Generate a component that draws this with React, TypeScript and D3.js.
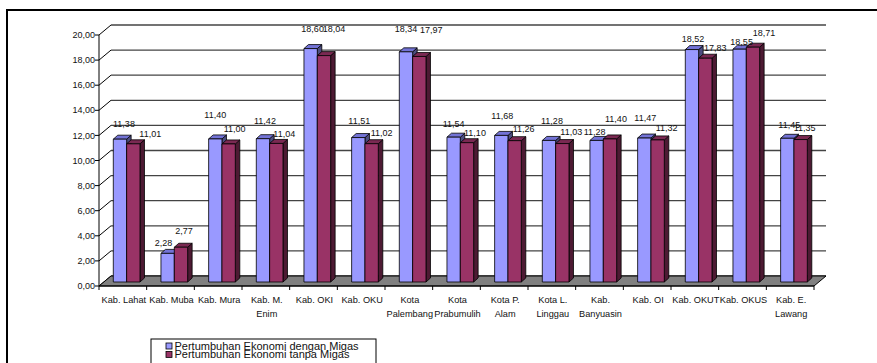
import React from "react";
import * as d3 from "d3";

// Regional economic growth (%) per kabupaten/kota
const categories: string[][] = [
  ["Kab. Lahat"],
  ["Kab. Muba"],
  ["Kab. Mura"],
  ["Kab. M.", "Enim"],
  ["Kab. OKI"],
  ["Kab. OKU"],
  ["Kota", "Palembang"],
  ["Kota", "Prabumulih"],
  ["Kota P.", "Alam"],
  ["Kota L.", "Linggau"],
  ["Kab.", "Banyuasin"],
  ["Kab. OI"],
  ["Kab. OKUT"],
  ["Kab. OKUS"],
  ["Kab. E.", "Lawang"],
];

const withMigas = [11.38, 2.28, 11.4, 11.42, 18.6, 11.51, 18.34, 11.54, 11.68, 11.28, 11.28, 11.47, 18.52, 18.55, 11.45];
const withoutMigas = [11.01, 2.77, 11.0, 11.04, 18.04, 11.02, 17.97, 11.1, 11.26, 11.03, 11.4, 11.32, 17.83, 18.71, 11.35];

const seriesNames = ["Pertumbuhan Ekonomi dengan Migas", "Pertumbuhan Ekonomi tanpa Migas"];
const yTicks = [0, 2, 4, 6, 8, 10, 12, 14, 16, 18, 20];

// label nudges (dx, dy) relative to the top-front of each bar
const labelNudgeA: [number, number][] = [
  [4, -15], [-4, -11], [0, -24], [2, -18], [2, -20], [1, -17], [0, -23], [0, -13],
  [1, -20], [3, -20], [-2, -9], [1, -20], [1, -11], [2, -7], [2, -13],
];
const labelNudgeB: [number, number][] = [
  [17, -10], [3, -16], [6, -15], [8, -10], [10, -27], [10, -11], [12, -27], [8, -10],
  [9, -12], [9, -12], [6, -20], [9, -12], [10, -10], [11, -14], [4, -12],
];

const W = 877;
const H = 363;
const FONT = "'Liberation Sans', Arial, sans-serif";

// plot geometry
const X0 = 99;
const X1 = 814;
const Y0 = 286;
const Y1 = 35;
const WALL_DX = 12;
const WALL_DY = -10;
const BAR_DX = 4.5;
const BAR_DY = -4;
const BAR_Z = -4; // bars stand slightly behind the floor's front edge
const GROUP_OFFSET = 14.3;
const GROUP_WIDTH = 26.67;

const fmt = (v: number) => v.toFixed(2).replace(".", ",");

const faces = {
  a: { front: "#9999ff", top: "#7373d6", side: "#4d4d80" },
  b: { front: "#993366", top: "#7a2952", side: "#4d1a33" },
};

export default function App() {
  const keys = categories.map((c) => c.join(" "));
  const x = d3.scaleBand<string>().domain(keys).range([X0, X1]);
  const y = d3.scaleLinear().domain([0, 20]).range([Y0, Y1]);
  const inner = d3.scaleBand<string>().domain(["a", "b"]).range([0, GROUP_WIDTH]);
  const bw = inner.bandwidth();

  const bar = (i: number, s: "a" | "b", v: number, nudge: [number, number]) => {
    const x0 = (x(keys[i]) as number) + GROUP_OFFSET + (inner(s) as number);
    const x1 = x0 + bw;
    const bottom = y(0) + BAR_Z;
    const top = y(v) + BAR_Z;
    const c = faces[s];
    const pts = (p: number[][]) => p.map((q) => q.join(",")).join(" ");
    return {
      shape: (
        <g key={`${s}${i}`} stroke="#000" strokeWidth={0.8} strokeLinejoin="round">
          <polygon
            points={pts([[x1, bottom], [x1, top], [x1 + BAR_DX, top + BAR_DY], [x1 + BAR_DX, bottom + BAR_DY]])}
            fill={c.side}
          />
          <polygon
            points={pts([[x0, top], [x1, top], [x1 + BAR_DX, top + BAR_DY], [x0 + BAR_DX, top + BAR_DY]])}
            fill={c.top}
          />
          <rect x={x0} y={top} width={bw} height={bottom - top} fill={c.front} />
        </g>
      ),
      label: (
        <text
          key={`l${s}${i}`}
          x={(x0 + x1) / 2 + nudge[0]}
          y={top + nudge[1]}
          dy="0.35em"
          textAnchor="middle"
          fontSize={9}
          fill="#111"
        >
          {fmt(v)}
        </text>
      ),
    };
  };

  const barsA = withMigas.map((v, i) => bar(i, "a", v, labelNudgeA[i]));
  const barsB = withoutMigas.map((v, i) => bar(i, "b", v, labelNudgeB[i]));

  const floor = [
    [X0, Y0],
    [X1, Y0],
    [X1 + WALL_DX, Y0 + WALL_DY],
    [X0 + WALL_DX, Y0 + WALL_DY],
  ]
    .map((p) => p.join(","))
    .join(" ");

  return (
    <svg
      width={W}
      height={H}
      style={{ position: "absolute", left: 0, top: 0, background: "#fff" }}
      fontFamily={FONT}
    >
      {/* outer chart frame */}
      <rect x={7} y={10} width={W + 10} height={H + 10} fill="#fff" stroke="#000" strokeWidth={2} />

      {/* back wall and side wall gridlines */}
      <g stroke="#444" strokeWidth={1.3} fill="none">
        {yTicks.map((t) => (
          <g key={t}>
            <line x1={X0 + WALL_DX} x2={X1 + WALL_DX} y1={y(t) + WALL_DY} y2={y(t) + WALL_DY} />
            <line x1={X0} x2={X0 + WALL_DX} y1={y(t)} y2={y(t) + WALL_DY} stroke="#000" strokeWidth={1} />
          </g>
        ))}
      </g>

      {/* floor */}
      <polygon points={floor} fill="#808080" stroke="#000" strokeWidth={1} />

      {/* columns, left to right */}
      {keys.map((_, i) => (
        <g key={i}>
          {barsA[i].shape}
          {barsB[i].shape}
        </g>
      ))}

      {/* value axis */}
      <line x1={X0} x2={X0} y1={Y0} y2={Y1} stroke="#000" strokeWidth={1} />
      {yTicks.map((t) => (
        <g key={t}>
          <line x1={X0 - 4} x2={X0} y1={y(t)} y2={y(t)} stroke="#000" strokeWidth={1} />
          <text x={X0 - 4} y={y(t)} dy="0.35em" textAnchor="end" fontSize={9} fill="#111">
            {fmt(t)}
          </text>
        </g>
      ))}

      {/* category axis */}
      <line x1={X0} x2={X1} y1={Y0} y2={Y0} stroke="#000" strokeWidth={1} />
      {d3.range(keys.length + 1).map((i) => {
        const xi = X0 + i * x.step();
        return <line key={i} x1={xi} x2={xi} y1={Y0} y2={Y0 + 4} stroke="#000" strokeWidth={1} />;
      })}
      {categories.map((lines, i) => {
        const cx = (x(keys[i]) as number) + x.bandwidth() / 2 + 1;
        return (
          <text key={i} x={cx} y={300} dy="0.35em" textAnchor="middle" fontSize={9.2} fill="#111">
            {lines.map((ln, k) => (
              <tspan key={k} x={cx} dy={k === 0 ? "0.35em" : 14}>
                {ln}
              </tspan>
            ))}
          </text>
        );
      })}

      {/* data labels */}
      {barsA.map((b) => b.label)}
      {barsB.map((b) => b.label)}

      {/* legend */}
      <rect x={151} y={339} width={225} height={40} fill="#fff" stroke="#000" strokeWidth={1} />
      {seriesNames.map((name, k) => {
        const c = k === 0 ? faces.a.front : faces.b.front;
        const ly = 346 + k * 8.4;
        return (
          <g key={name}>
            <rect x={166} y={ly - 3} width={6} height={6} fill={c} stroke="#000" strokeWidth={0.8} />
            <text x={174.5} y={ly} dy="0.35em" fontSize={11} fill="#111">
              {name}
            </text>
          </g>
        );
      })}
    </svg>
  );
}
